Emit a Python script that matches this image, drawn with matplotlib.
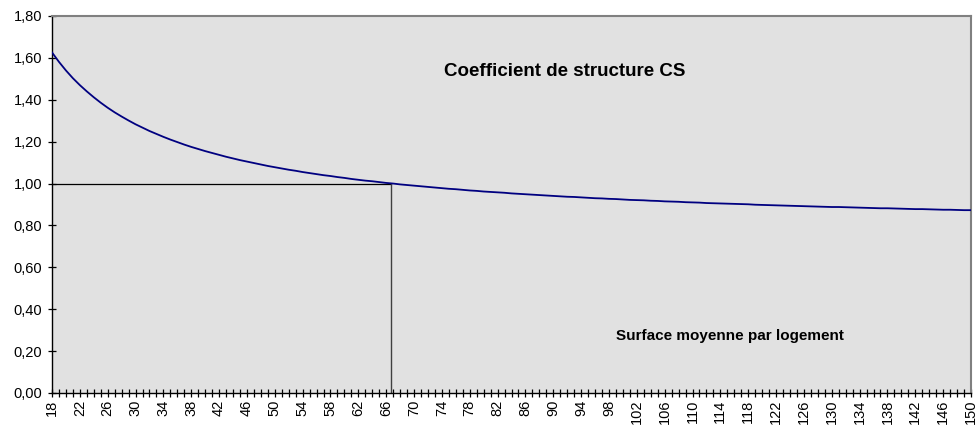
import matplotlib
matplotlib.use("Agg")
import matplotlib.pyplot as plt
from matplotlib.ticker import FuncFormatter

# surface moyenne par logement (m2) and coefficient de structure
surface = list(range(18, 151))
cs = [1.626, 1.581, 1.540, 1.503, 1.470, 1.440, 1.412, 1.386, 1.362, 1.340,
      1.320, 1.301, 1.283, 1.267, 1.251, 1.237, 1.223, 1.210, 1.198, 1.186,
      1.175, 1.165, 1.155, 1.146, 1.137, 1.128, 1.120, 1.112, 1.105, 1.098,
      1.091, 1.084, 1.078, 1.072, 1.066, 1.061, 1.055, 1.050, 1.045, 1.040,
      1.036, 1.031, 1.027, 1.022, 1.018, 1.014, 1.011, 1.007, 1.003, 1.000,
      0.996, 0.993, 0.990, 0.987, 0.984, 0.981, 0.978, 0.975, 0.973, 0.970,
      0.967, 0.965, 0.962, 0.960, 0.958, 0.956, 0.953, 0.951, 0.949, 0.947,
      0.945, 0.943, 0.941, 0.939, 0.937, 0.936, 0.934, 0.932, 0.930, 0.929,
      0.927, 0.926, 0.924, 0.922, 0.921, 0.920, 0.918, 0.917, 0.915, 0.914,
      0.913, 0.911, 0.910, 0.909, 0.907, 0.906, 0.905, 0.904, 0.903, 0.902,
      0.901, 0.899, 0.898, 0.897, 0.896, 0.895, 0.894, 0.893, 0.892, 0.891,
      0.890, 0.889, 0.888, 0.888, 0.887, 0.886, 0.885, 0.884, 0.883, 0.882,
      0.882, 0.881, 0.880, 0.879, 0.878, 0.878, 0.877, 0.876, 0.875, 0.875,
      0.874, 0.873, 0.873]
ref_surface = 66.7
ref_cs = 1.00
y_ticks = [0.0, 0.2, 0.4, 0.6, 0.8, 1.0, 1.2, 1.4, 1.6, 1.8]

plt.rcParams['font.family'] = ['Liberation Sans', 'DejaVu Sans']

fig = plt.figure(figsize=(9.75, 4.26), dpi=100)
ax = fig.add_axes([52 / 975, 1 - 393 / 426, 919 / 975, 377 / 426])
ax.set_facecolor('#e1e1e1')

ax.plot(surface, cs, color='#000080', lw=1.3, zorder=3)
ax.plot([surface[0], ref_surface], [ref_cs, ref_cs], color='black', lw=0.9, zorder=2)
ax.plot([ref_surface, ref_surface], [0, ref_cs], color='#404040', lw=1.0, zorder=2)

ax.set_xlim(surface[0], surface[-1])
ax.set_ylim(0, 1.8)
ax.set_yticks(y_ticks)
ax.yaxis.set_major_formatter(FuncFormatter(lambda v, p: ('%.2f' % v).replace('.', ',')))
ax.set_xticks(surface, minor=True)
ax.set_xticks(surface[::4])
ax.set_xticklabels([str(s) for s in surface[::4]], rotation=90)

ax.tick_params(axis='y', direction='inout', length=6, width=0.9, labelsize=10.5, pad=4)
ax.tick_params(axis='x', which='both', direction='inout', length=6, width=0.9, labelsize=10.5, pad=2)

for side in ['left', 'bottom']:
    ax.spines[side].set_color('black')
    ax.spines[side].set_linewidth(1.0)
for side in ['top', 'right']:
    ax.spines[side].set_color('#808080')
    ax.spines[side].set_linewidth(1.5)

ax.text(91.7, 1.533, 'Coefficient de structure CS', fontsize=13.5, fontweight='bold', ha='center', va='center')
ax.text(115.4, 0.272, 'Surface moyenne par logement', fontsize=11, fontweight='bold', ha='center', va='center')

fig.savefig('out.png', dpi=100)
